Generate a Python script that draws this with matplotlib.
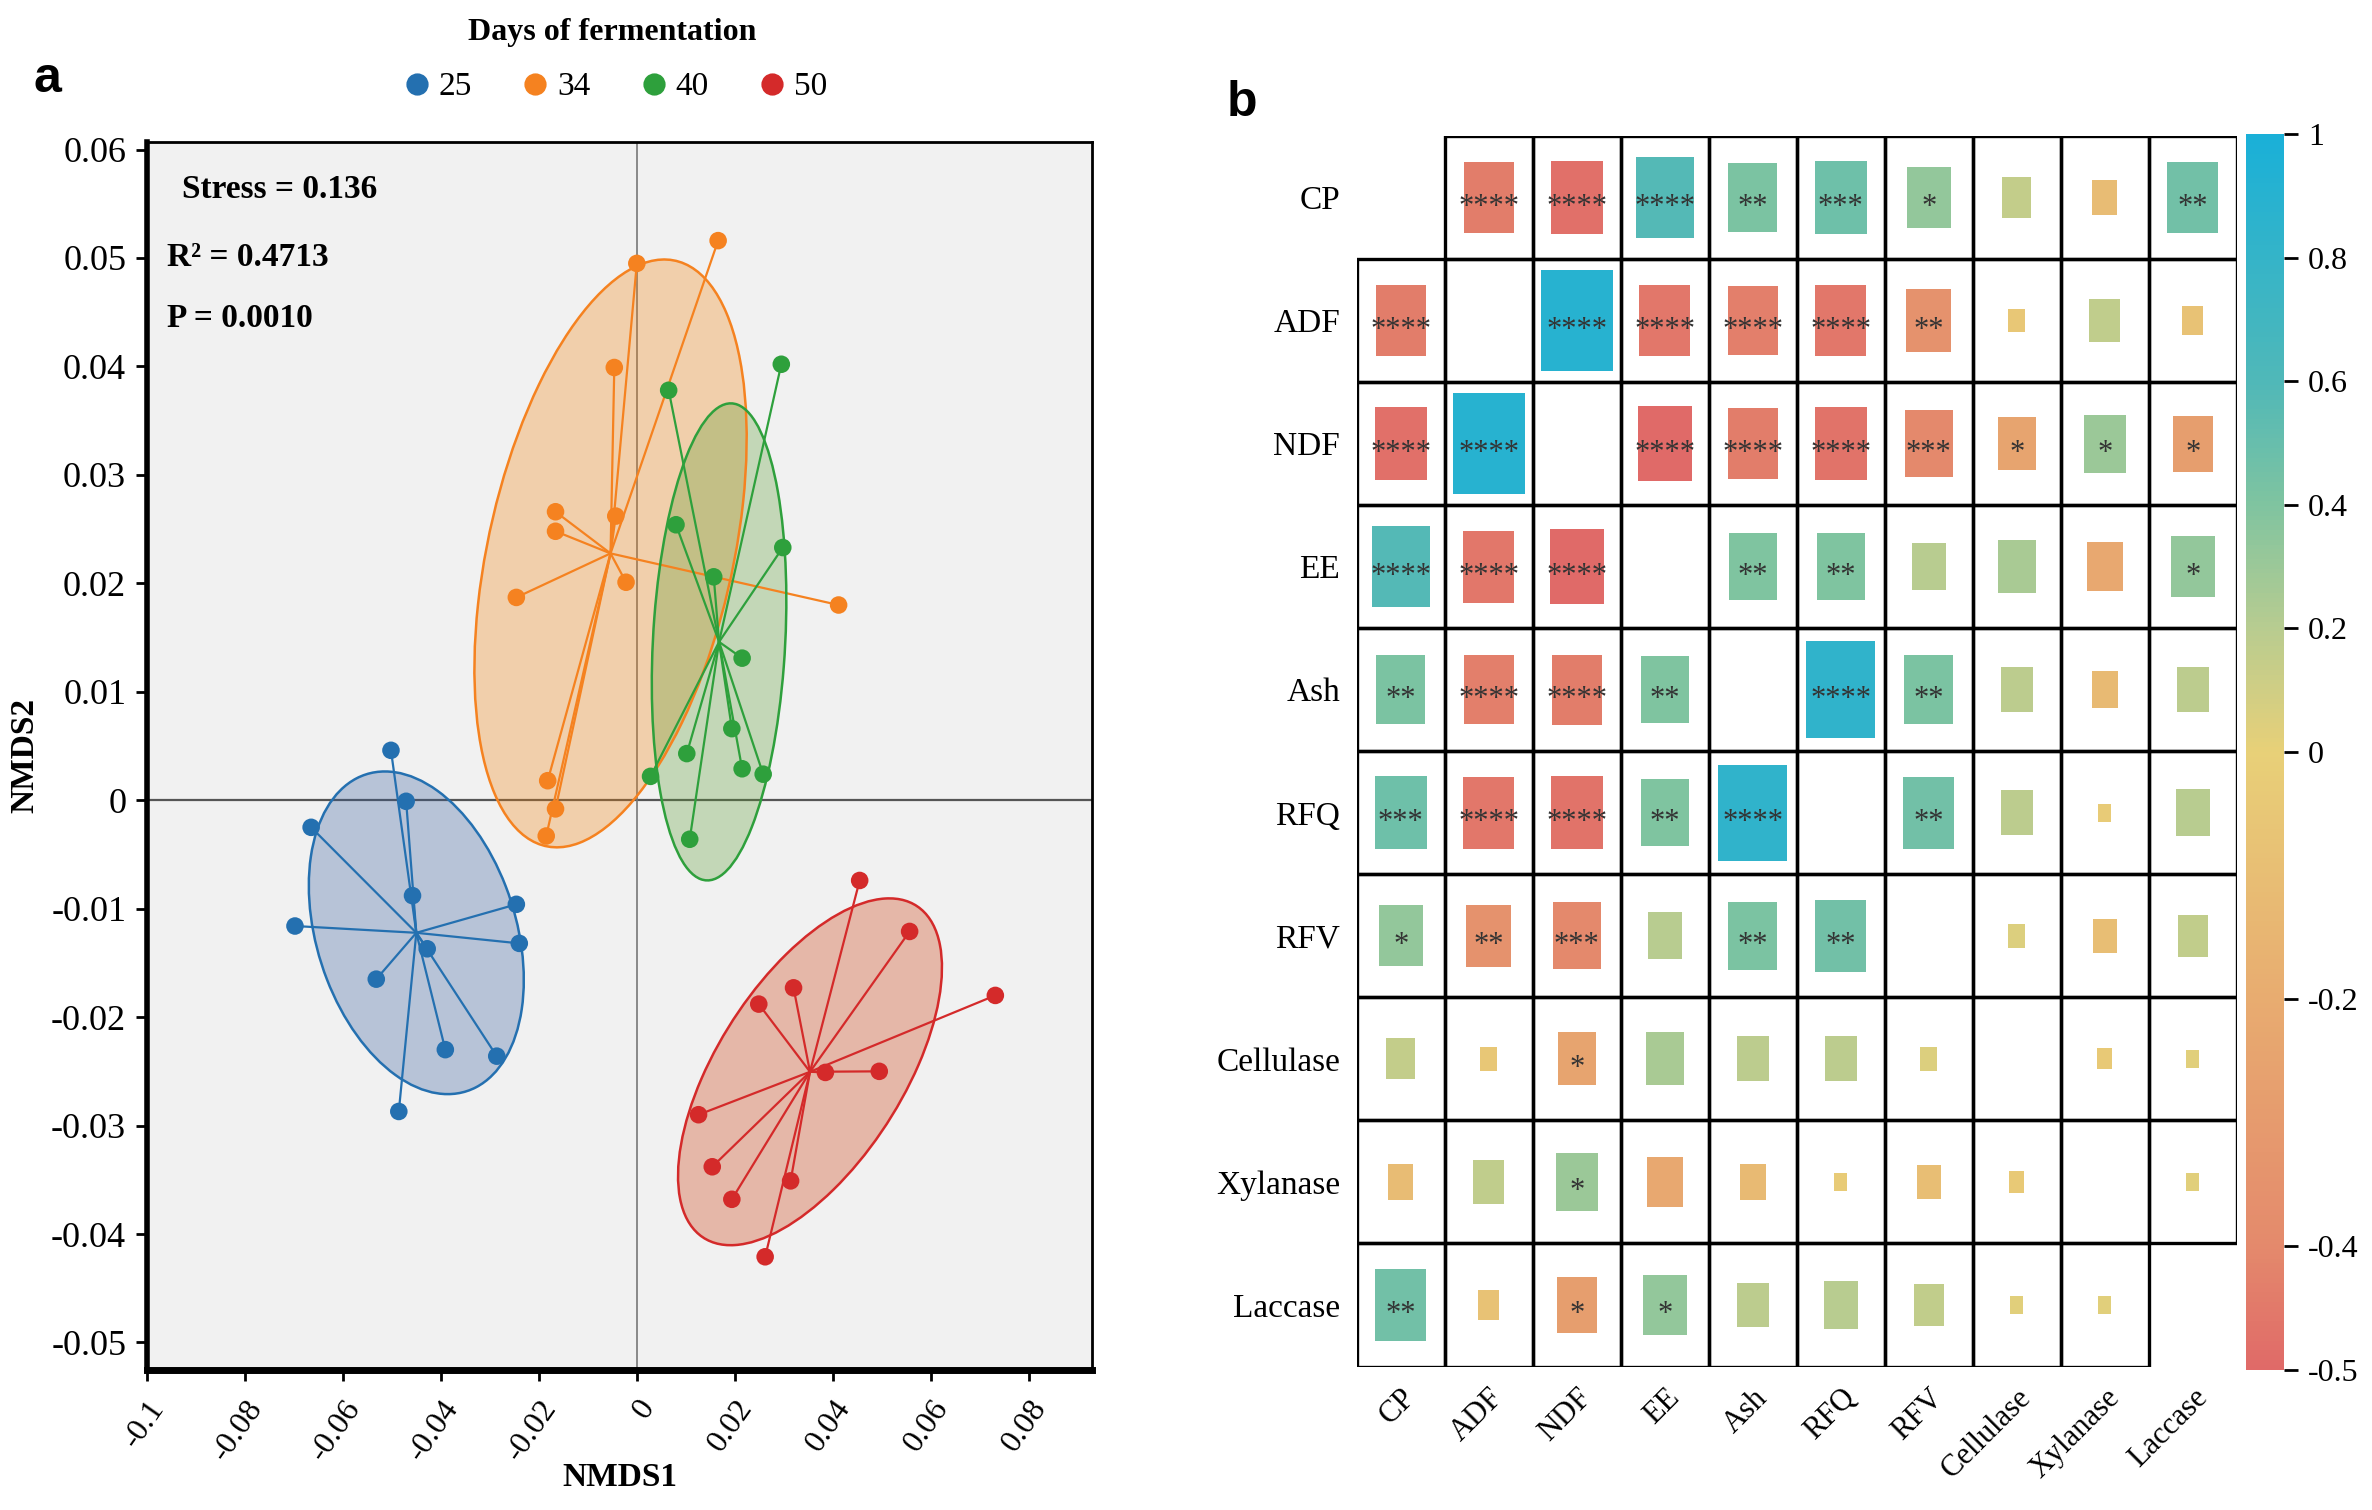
import numpy as np
import matplotlib
matplotlib.use('Agg')
import matplotlib.pyplot as plt
from matplotlib.patches import Ellipse, Rectangle
from matplotlib.colors import LinearSegmentedColormap, TwoSlopeNorm
from matplotlib.cm import ScalarMappable
from matplotlib.lines import Line2D

plt.rcParams['font.family'] = ['Liberation Serif', 'DejaVu Serif']

# ---- panel a: NMDS scores ----
days = ['25', '34', '40', '50']
day_colors = ['#2470b0', '#f58220', '#2ea03c', '#d42a2a']
fill_colors = ['#31599b', '#f28109', '#599b31', '#ca3100']

nmds1_25 = [-0.0502, -0.0665, -0.0471, -0.0458, -0.0698, -0.0428, -0.0532, -0.0246, -0.0240, -0.0391, -0.0286, -0.0486]
nmds2_25 = [0.0046, -0.0025, -0.0001, -0.0088, -0.0116, -0.0137, -0.0165, -0.0096, -0.0132, -0.0230, -0.0236, -0.0287]
nmds1_34 = [0.0166, 0.0000, -0.0046, -0.0166, -0.0166, -0.0043, -0.0022, -0.0246, 0.0412, -0.0182, -0.0166, -0.0185]
nmds2_34 = [0.0516, 0.0495, 0.0399, 0.0266, 0.0248, 0.0262, 0.0201, 0.0187, 0.0180, 0.0018, -0.0008, -0.0033]
nmds1_40 = [0.0295, 0.0065, 0.0080, 0.0298, 0.0157, 0.0215, 0.0194, 0.0102, 0.0215, 0.0258, 0.0028, 0.0108]
nmds2_40 = [0.0402, 0.0378, 0.0254, 0.0233, 0.0206, 0.0131, 0.0066, 0.0043, 0.0029, 0.0024, 0.0022, -0.0036]
nmds1_50 = [0.0455, 0.0557, 0.0732, 0.0320, 0.0249, 0.0385, 0.0495, 0.0126, 0.0154, 0.0194, 0.0314, 0.0262]
nmds2_50 = [-0.0074, -0.0121, -0.0180, -0.0173, -0.0188, -0.0251, -0.0250, -0.0290, -0.0338, -0.0368, -0.0351, -0.0421]

stress = 0.136
r2 = 0.4713
p_value = 0.0010

# ---- panel b: correlation matrix ----
variables = ['CP', 'ADF', 'NDF', 'EE', 'Ash', 'RFQ', 'RFV', 'Cellulase', 'Xylanase', 'Laccase']
corr = [
    [1.00, -0.44, -0.48, 0.58, 0.42, 0.47, 0.33, 0.15, -0.11, 0.46],
    [-0.44, 1.00, 0.90, -0.46, -0.43, -0.46, -0.35, -0.05, 0.17, -0.08],
    [-0.48, 0.90, 1.00, -0.50, -0.44, -0.47, -0.40, -0.25, 0.30, -0.28],
    [0.58, -0.46, -0.50, 1.00, 0.40, 0.40, 0.20, 0.25, -0.22, 0.33],
    [0.42, -0.43, -0.44, 0.40, 1.00, 0.83, 0.42, 0.18, -0.12, 0.18],
    [0.47, -0.46, -0.47, 0.40, 0.83, 1.00, 0.46, 0.18, -0.03, 0.20],
    [0.33, -0.35, -0.40, 0.20, 0.42, 0.46, 1.00, 0.05, -0.10, 0.16],
    [0.15, -0.05, -0.25, 0.25, 0.18, 0.18, 0.05, 1.00, -0.04, 0.03],
    [-0.11, 0.17, 0.30, -0.22, -0.12, -0.03, -0.10, -0.04, 1.00, 0.03],
    [0.46, -0.08, -0.28, 0.33, 0.18, 0.20, 0.16, 0.03, 0.03, 1.00],
]
stars = [
    ['', '****', '****', '****', '**', '***', '*', '', '', '**'],
    ['****', '', '****', '****', '****', '****', '**', '', '', ''],
    ['****', '****', '', '****', '****', '****', '***', '*', '*', '*'],
    ['****', '****', '****', '', '**', '**', '', '', '', '*'],
    ['**', '****', '****', '**', '', '****', '**', '', '', ''],
    ['***', '****', '****', '**', '****', '', '**', '', '', ''],
    ['*', '**', '***', '', '**', '**', '', '', '', ''],
    ['', '', '*', '', '', '', '', '', '', ''],
    ['', '', '*', '', '', '', '', '', '', ''],
    ['**', '', '*', '*', '', '', '', '', '', ''],
]
cbar_ticks = [1, 0.8, 0.6, 0.4, 0.2, 0, -0.2, -0.4, -0.5]

fig = plt.figure(figsize=(11.86, 7.55), dpi=200)

# ================= panel a =================
ax = fig.add_axes([0.062, 0.093, 0.3985, 0.813])
ax.set_facecolor('#f1f1f1')
ax.axhline(0, color='#555555', lw=0.8, zorder=1)
ax.axvline(0, color='#777777', lw=0.6, zorder=1)

groups = [(nmds1_25, nmds2_25), (nmds1_34, nmds2_34), (nmds1_40, nmds2_40), (nmds1_50, nmds2_50)]
k = 1.5
for (gx, gy), col, fcol in zip(groups, day_colors, fill_colors):
    gx = np.array(gx)
    gy = np.array(gy)
    cx, cy = gx.mean(), gy.mean()
    cov = np.cov(gx, gy)
    vals, vecs = np.linalg.eigh(cov)
    order = vals.argsort()[::-1]
    vals, vecs = vals[order], vecs[:, order]
    ang = np.degrees(np.arctan2(vecs[1, 0], vecs[0, 0]))
    w, h = 2 * k * np.sqrt(vals)
    ax.add_patch(Ellipse((cx, cy), w, h, angle=ang, facecolor=fcol, alpha=0.3,
                         edgecolor='none', zorder=2))
    ax.add_patch(Ellipse((cx, cy), w, h, angle=ang, facecolor='none',
                         edgecolor=col, lw=0.9, zorder=3))
    for px, py in zip(gx, gy):
        ax.plot([cx, px], [cy, py], color=col, lw=0.8, zorder=3)
    ax.scatter(gx, gy, s=40, color=col, zorder=4, edgecolors='none')

ax.set_xlim(-0.1, 0.093)
ax.set_ylim(-0.0525, 0.0607)
xt = np.round(np.arange(-0.1, 0.081, 0.02), 2)
yt = np.round(np.arange(-0.05, 0.061, 0.01), 2)
ax.set_xticks(xt)
ax.set_xticklabels(['{:g}'.format(v) for v in xt], rotation=55, ha='right',
                   rotation_mode='anchor', fontsize=11.5)
ax.set_yticks(yt)
ax.set_yticklabels(['{:g}'.format(v) for v in yt], fontsize=13)
ax.tick_params(axis='both', direction='out', length=4, width=1.0, color='black')
ax.tick_params(axis='x', pad=5)
for side in ['top', 'right']:
    ax.spines[side].set_linewidth(1.0)
ax.spines['left'].set_linewidth(2.0)
ax.spines['bottom'].set_linewidth(2.5)
ax.set_xlabel('NMDS1', fontsize=12, fontweight='bold', va='center')
ax.xaxis.set_label_coords(0.5, -0.088)
ax.set_ylabel('NMDS2', fontsize=12, fontweight='bold', labelpad=4)

ax.text(0.037, 0.961, 'Stress = {:.3f}'.format(stress), transform=ax.transAxes,
        fontsize=12, fontweight='bold', va='center')
ax.text(0.021, 0.906, 'R\u00b2 = {:.4f}'.format(r2), transform=ax.transAxes,
        fontsize=12, fontweight='bold', va='center')
ax.text(0.021, 0.856, 'P = {:.4f}'.format(p_value), transform=ax.transAxes,
        fontsize=12, fontweight='bold', va='center')

handles = [Line2D([], [], marker='o', ls='none', color=c, markersize=7) for c in day_colors]
leg = fig.legend(handles, days, title='Days of fermentation', ncol=4, loc='upper center',
                 bbox_to_anchor=(0.258, 1.008), frameon=False, fontsize=12,
                 handletextpad=0.05, columnspacing=1.3, handlelength=1.2)
leg.get_title().set_fontweight('bold')
leg.get_title().set_fontsize(11.5)
leg._legend_box.sep = 9

fig.text(0.014, 0.948, 'a', fontsize=18, fontweight='bold', family='Liberation Sans', va='center')
fig.text(0.517, 0.932, 'b', fontsize=18, fontweight='bold', family='Liberation Sans', va='center')

# ================= panel b =================
# stops placed on the 0-1 scale of TwoSlopeNorm(-0.5, 0, 1)
cmap = LinearSegmentedColormap.from_list('corr', [
    (0.0, '#e06a68'), (0.1, '#e48a6c'), (0.3, '#e8ac70'), (0.5, '#e8d078'),
    (0.6, '#b8cc90'), (0.7, '#80c4a0'), (0.8, '#50b8b8'), (1.0, '#1ab0d8')])
norm = TwoSlopeNorm(vmin=-0.5, vcenter=0, vmax=1)

bx = fig.add_axes([0.572, 0.095, 0.371, 0.815])
n = len(variables)
bx.set_xlim(0, n)
bx.set_ylim(n, 0)
for i in range(n):
    for j in range(n):
        if (i == 0 and j == 0) or (i == n - 1 and j == n - 1):
            continue
        bx.add_patch(Rectangle((j, i), 1, 1, facecolor='none', edgecolor='black', lw=1.2))
        if i == j:
            continue
        r = corr[i][j]
        s = 0.86 * np.sqrt(abs(r))
        bx.add_patch(Rectangle((j + 0.5 - s / 2, i + 0.5 - s / 2), s, s,
                               facecolor=cmap(norm(r)), edgecolor='none'))
        if stars[i][j]:
            bx.text(j + 0.5, i + 0.58, stars[i][j], ha='center', va='center',
                    fontsize=11, color='#333333')

bx.set_xticks(np.arange(n) + 0.5)
bx.set_xticklabels(variables, rotation=45, ha='right', rotation_mode='anchor', fontsize=11)
bx.set_yticks(np.arange(n) + 0.5)
bx.set_yticklabels(variables, fontsize=12)
bx.tick_params(length=0, pad=6)
for sp in bx.spines.values():
    sp.set_visible(False)

cax = fig.add_axes([0.947, 0.093, 0.016, 0.818])
cb = fig.colorbar(ScalarMappable(norm=norm, cmap=cmap), cax=cax)
cb.set_ticks(cbar_ticks)
cb.set_ticklabels(['{:g}'.format(v) for v in cbar_ticks])
cb.outline.set_visible(False)
cax.tick_params(length=5, width=1.0, labelsize=11.5)

fig.savefig('out.png', dpi=200)
